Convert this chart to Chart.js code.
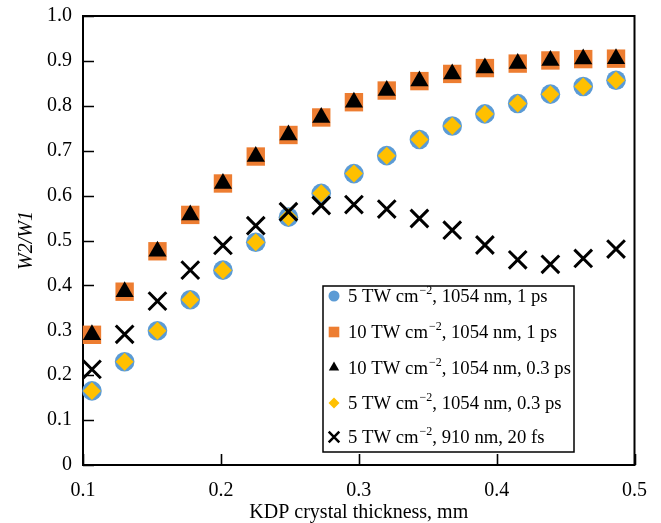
<!DOCTYPE html>
<html>
<head>
<meta charset="utf-8">
<script src="https://cdn.jsdelivr.net/npm/chart.js@4.4.1/dist/chart.umd.min.js"></script>
<style>
    html, body { margin: 0; padding: 0; background: #fff; }
</style>
</head>
<body>
<canvas id="chart" width="661" height="523"></canvas>
<script>
// DATA
// KDP crystal thickness, mm
const thickness = [0.1065, 0.1302, 0.154, 0.1778, 0.2015, 0.2253, 0.249, 0.2728, 0.2965,
    0.3203, 0.344, 0.3678, 0.3915, 0.4153, 0.439, 0.4628, 0.4866];

// W2/W1 for each pump case
const w5_1054_1ps = [0.165, 0.23, 0.299, 0.368, 0.434, 0.496, 0.552, 0.605, 0.649,
    0.689, 0.725, 0.755, 0.782, 0.805, 0.826, 0.843, 0.857];
const w10_1054_1ps = [0.29, 0.386, 0.476, 0.557, 0.627, 0.687, 0.735, 0.774, 0.808,
    0.834, 0.855, 0.871, 0.884, 0.894, 0.901, 0.904, 0.905];
const w10_1054_03ps = [0.29, 0.386, 0.476, 0.557, 0.627, 0.687, 0.735, 0.774, 0.808,
    0.834, 0.855, 0.871, 0.884, 0.894, 0.901, 0.904, 0.905];
const w5_1054_03ps = [0.165, 0.23, 0.299, 0.368, 0.434, 0.496, 0.552, 0.605, 0.649,
    0.689, 0.725, 0.755, 0.782, 0.805, 0.826, 0.843, 0.857];
const w5_910_20fs = [0.213, 0.291, 0.365, 0.434, 0.489, 0.533, 0.564, 0.578, 0.580,
    0.570, 0.549, 0.523, 0.490, 0.457, 0.447, 0.460, 0.481];

// tick labels
const xTicks = [0.1, 0.2, 0.3, 0.4, 0.5];
const yTicks = [0, 0.1, 0.2, 0.3, 0.4, 0.5, 0.6, 0.7, 0.8, 0.9, 1.0];

// legend text: before superscript, superscript, after
const legendMain = ['5 TW cm', '10 TW cm', '10 TW cm', '5 TW cm', '5 TW cm'];
const legendSup = ['\u22122', '\u22122', '\u22122', '\u22122', '\u22122'];
const legendRest = [', 1054 nm, 1 ps', ', 1054 nm, 1 ps', ', 1054 nm, 0.3 ps', ', 1054 nm, 0.3 ps', ', 910 nm, 20 fs'];

const SERIF = "'Liberation Serif', 'Times New Roman', serif";

function pts(ys) {
    return thickness.map((x, i) => ({x: x, y: ys[i]}));
}

// Plot frame + inner ticks
const framePlugin = {
    id: 'frame',
    beforeDatasetsDraw(chart) {
        const {ctx, chartArea: a, scales} = chart;
        ctx.save();
        ctx.strokeStyle = '#000';
        ctx.lineWidth = 2;
        ctx.strokeRect(a.left, a.top, a.right - a.left, a.bottom - a.top);
        ctx.lineWidth = 1.6;
        ctx.beginPath();
        yTicks.forEach(v => {
            const y = Math.round(scales.y.getPixelForValue(v)) + 0.5;
            ctx.moveTo(a.left, y);
            ctx.lineTo(a.left + 11, y);
        });
        xTicks.forEach(v => {
            const x = Math.round(scales.x.getPixelForValue(v)) + 0.5;
            ctx.moveTo(x, a.bottom);
            ctx.lineTo(x, a.bottom - 11);
        });
        ctx.stroke();
        ctx.restore();
    }
};

// Boxed legend inside the plot
const legendPlugin = {
    id: 'boxLegend',
    afterDraw(chart) {
        const ctx = chart.ctx;
        const box = {x: 323, y: 286, w: 251, h: 166};
        const rowY = [296, 332, 367.5, 403, 437];
        const markX = 334, textX = 348;
        const marks = [
            {pointStyle: 'circle', radius: 5.5, color: '#5B9BD5'},
            {pointStyle: 'rect', radius: 7.5, color: '#ED7D31'},
            {pointStyle: 'triangle', radius: 6, color: '#000'},
            {pointStyle: 'rectRot', radius: 5.5, color: '#FFC000'},
            {pointStyle: 'crossRot', radius: 7.5, color: '#000', borderWidth: 2.5}
        ];
        ctx.save();
        ctx.fillStyle = '#fff';
        ctx.fillRect(box.x, box.y, box.w, box.h);
        ctx.strokeStyle = '#000';
        ctx.lineWidth = 1.5;
        ctx.strokeRect(box.x, box.y, box.w, box.h);

        marks.forEach((m, i) => {
            ctx.fillStyle = m.color;
            ctx.strokeStyle = m.color;
            ctx.lineWidth = m.borderWidth || 0;
            Chart.helpers.drawPoint(ctx, {
                pointStyle: m.pointStyle, radius: m.radius, rotation: 0,
                borderWidth: m.borderWidth || 0
            }, markX, rowY[i]);

            const base = rowY[i] + 6;
            ctx.fillStyle = '#000';
            ctx.textBaseline = 'alphabetic';
            ctx.textAlign = 'left';
            ctx.font = '18.7px ' + SERIF;
            let x = textX;
            ctx.fillText(legendMain[i], x, base);
            x += ctx.measureText(legendMain[i]).width + 1;
            ctx.font = '12px ' + SERIF;
            ctx.fillText(legendSup[i], x, base - 8);
            x += ctx.measureText(legendSup[i]).width;
            ctx.font = '18.7px ' + SERIF;
            ctx.fillText(legendRest[i], x, base);
        });
        ctx.restore();
    }
};

const myChart = new Chart(document.getElementById('chart').getContext('2d'), {
    type: 'scatter',
    data: {
        datasets: [
            {
                label: '5 TW cm-2, 1054 nm, 1 ps',
                data: pts(w5_1054_1ps),
                pointStyle: 'circle',
                pointRadius: 9.8,
                backgroundColor: '#5B9BD5',
                borderWidth: 0,
                order: 5,
                clip: false
            },
            {
                label: '10 TW cm-2, 1054 nm, 1 ps',
                data: pts(w10_1054_1ps),
                pointStyle: 'rect',
                pointRadius: 13,
                backgroundColor: '#ED7D31',
                borderWidth: 0,
                order: 4,
                clip: false
            },
            {
                label: '10 TW cm-2, 1054 nm, 0.3 ps',
                data: pts(w10_1054_03ps),
                pointStyle: 'triangle',
                pointRadius: 10.5,
                backgroundColor: '#000',
                borderWidth: 0,
                order: 3,
                clip: false
            },
            {
                label: '5 TW cm-2, 1054 nm, 0.3 ps',
                data: pts(w5_1054_03ps),
                pointStyle: 'rectRot',
                pointRadius: 9,
                backgroundColor: '#FFC000',
                borderWidth: 0,
                order: 2,
                clip: false
            },
            {
                label: '5 TW cm-2, 910 nm, 20 fs',
                data: pts(w5_910_20fs),
                pointStyle: 'crossRot',
                pointRadius: 12.5,
                borderColor: '#000',
                backgroundColor: '#000',
                borderWidth: 3,
                order: 1,
                clip: false
            }
        ]
    },
    options: {
        responsive: false,
        animation: false,
        devicePixelRatio: 1,
        layout: {padding: {top: 16, right: 25, left: 0, bottom: 0}},
        plugins: {
            legend: {display: false},
            tooltip: {enabled: false}
        },
        scales: {
            x: {
                type: 'linear',
                min: 0.1,
                max: 0.5,
                afterBuildTicks: s => { s.ticks = xTicks.map(v => ({value: v})); },
                afterFit: s => { s.height = 58; },
                grid: {display: false, drawTicks: false},
                border: {display: false},
                ticks: {
                    color: '#000',
                    padding: 14,
                    maxRotation: 0,
                    font: {family: SERIF, size: 20},
                    callback: v => v.toFixed(1)
                },
                title: {
                    display: true,
                    text: 'KDP crystal thickness, mm',
                    color: '#000',
                    font: {family: SERIF, size: 20},
                    padding: {top: 0, bottom: -2}
                }
            },
            y: {
                min: 0,
                max: 1,
                afterBuildTicks: s => { s.ticks = yTicks.map(v => ({value: v})); },
                afterFit: s => { s.width = 83; },
                grid: {display: false, drawTicks: false},
                border: {display: false},
                ticks: {
                    color: '#000',
                    padding: 11,
                    font: {family: SERIF, size: 20, lineHeight: 0.5},
                    callback: v => (v === 0 ? '0' : v.toFixed(1))
                },
                title: {
                    display: true,
                    text: 'W2/W1',
                    color: '#000',
                    font: {family: SERIF, size: 20, style: 'italic'},
                    padding: {top: 15, bottom: 0}
                }
            }
        }
    },
    plugins: [framePlugin, legendPlugin]
});
</script>
</body>
</html>
